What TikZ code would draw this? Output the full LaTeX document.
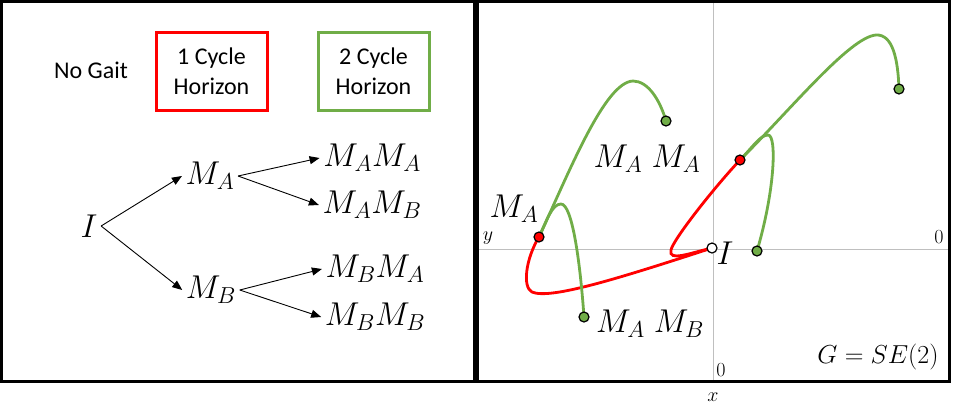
\RequirePackage{fix-cm}
\documentclass[tikz,border=0pt]{standalone}
\usepackage[no-math]{fontspec}
\setmainfont{Carlito}
\usetikzlibrary{arrows.meta}
\definecolor{gaitred}{HTML}{FF0000}
\definecolor{gaitgreen}{HTML}{70AD47}
\definecolor{axisgray}{HTML}{BFBFBF}
\tikzset{
	panel/.style={draw=black, line width=3pt},
	tag/.style={font=\fontsize{24}{30}\selectfont, align=center},
	horizonbox/.style={tag, draw=#1, line width=3pt, minimum width=111pt, minimum height=78pt},
	word/.style={font=\fontsize{33}{38}\selectfont, inner sep=3.5pt},
	small/.style={font=\fontsize{20}{24}\selectfont, inner sep=0pt},
	branch/.style={-{Triangle[length=10pt,width=8pt]}, line width=0.9pt},
	onecycle/.style={draw=gaitred, line width=2.8pt},
	twocycle/.style={draw=gaitgreen, line width=2.8pt},
	dot/.style={circle, draw=black, line width=1.2pt, fill=#1, minimum size=10pt, inner sep=0pt},
}
\begin{document}
\begin{tikzpicture}[x=1pt, y=-1pt]
	\useasboundingbox (0,0) rectangle (959,408);
	% axes and panels
	\draw[axisgray, line width=1pt] (476,249) -- (949,249);
	\draw[axisgray, line width=1pt] (713,1) -- (713,381);
	\draw[panel] (1.5,1.5) rectangle (474.5,381);
	\draw[panel] (477,1.5) rectangle (949.5,381);
	% legend
	\node[tag] (nogait) at (91,70) {No Gait};
	\node[horizonbox=gaitred] (one) at (211.5,71) {1 Cycle\\Horizon};
	\node[horizonbox=gaitgreen] (two) at (373.5,71.5) {2 Cycle\\Horizon};
	% tree
	\node[word] (I) at (89,226) {$I$};
	\node[word] (MA) at (210,176) {$M_A$};
	\node[word] (MB) at (211,290) {$M_B$};
	\node[word] (MAMA) at (372,158) {$M_AM_A$};
	\node[word] (MAMB) at (372,205) {$M_AM_B$};
	\node[word] (MBMA) at (375,269) {$M_BM_A$};
	\node[word] (MBMB) at (375,317) {$M_BM_B$};
	\draw[branch] (I.east) -- (MA.west);
	\draw[branch] (I.east) -- (MB.west);
	\draw[branch] (MA.east) -- (MAMA.west);
	\draw[branch] (MA.east) -- (MAMB.west);
	\draw[branch] (MB.east) -- (MBMA.west);
	\draw[branch] (MB.east) -- (MBMB.west);
	% trajectories
	\coordinate (id) at (712,248);
	\coordinate (ra) at (539,237);
	\coordinate (rb) at (740,160);
	\coordinate (gaa) at (666,121);
	\coordinate (gab) at (584,317);
	\coordinate (gba) at (899,89);
	\coordinate (gbb) at (757,251);
	\draw[onecycle] (id) .. controls (620,278) and (550,300) .. (532,292) .. controls (522,287) and (526,258) .. (ra);
	\draw[onecycle] (id) .. controls (690,253) and (668,262) .. (671,250) .. controls (673,240) and (712,190) .. (rb);
	\draw[twocycle] (ra) .. controls (570,170) and (605,82) .. (633,81) .. controls (648,81) and (660,100) .. (gaa);
	\draw[twocycle] (ra) .. controls (547,220) and (552,204) .. (561,204) .. controls (572,204) and (580,260) .. (gab);
	\draw[twocycle] (rb) .. controls (792,108) and (850,37) .. (876,35) .. controls (893,34) and (898,60) .. (gba);
	\draw[twocycle] (rb) .. controls (752,148) and (760,135) .. (768,135) .. controls (777,135) and (775,190) .. (gbb);
	\node[dot=white] (id-dot) at (id) {};
	\node[dot=gaitred] (ra-dot) at (ra) {};
	\node[dot=gaitred] (rb-dot) at (rb) {};
	\node[dot=gaitgreen] (gaa-dot) at (gaa) {};
	\node[dot=gaitgreen] (gab-dot) at (gab) {};
	\node[dot=gaitgreen] (gba-dot) at (gba) {};
	\node[dot=gaitgreen] (gbb-dot) at (gbb) {};
	% labels
	\node[word] (lid) at (725,253) {$I$};
	\node[word] (lra) at (514,209) {$M_A$};
	\node[word] (lgaa) at (647,159) {$M_A\;M_A$};
	\node[word] (lgab) at (650,324) {$M_A\;M_B$};
	\node[font=\fontsize{26}{30}\selectfont] (group) at (878,357) {$G=SE(2)$};
	\node[small] (ylab) at (488,238) {$y$};
	\node[small] (yzero) at (939,237) {$0$};
	\node[small] (xzero) at (721,370) {$0$};
	\node[small] (xlab) at (713,397) {$x$};
\end{tikzpicture}
\end{document}
